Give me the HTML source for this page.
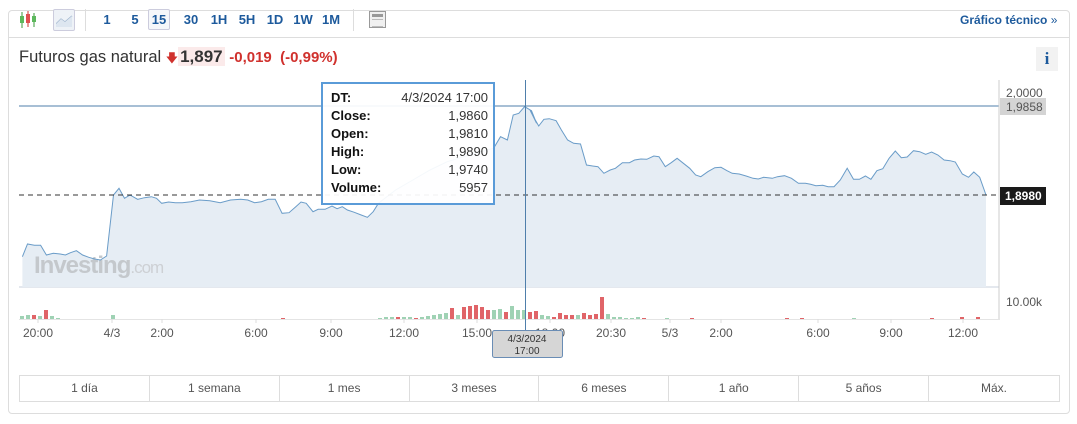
<!DOCTYPE html>
<html><head><meta charset="utf-8">
<style>
*{box-sizing:border-box;margin:0;padding:0}
body{width:1077px;height:424px;background:#fff;font-family:"Liberation Sans",Arial,sans-serif;position:relative;overflow:hidden}
.card{position:absolute;left:8px;top:10px;width:1062px;height:404px;border:1px solid #ddd;border-radius:4px}
.tb{position:absolute;top:12px;font-size:13px;font-weight:bold;color:#1d5a9c}
.tf{position:absolute;top:8px;height:23px;line-height:23px;text-align:center}
</style></head><body>
<div class="card"></div>
<div style="position:absolute;left:9px;top:37px;width:1060px;height:1px;background:#ddd"></div>
<svg style="position:absolute;left:18px;top:10px" width="20" height="20"><g stroke-width="1">
<line x1="4" y1="2" x2="4" y2="18" stroke="#3a9a3a"/><rect x="2" y="6" width="4" height="7" fill="#5cb85c"/>
<line x1="10" y1="1" x2="10" y2="17" stroke="#c33"/><rect x="8" y="4" width="4" height="9" fill="#e05050"/>
<line x1="16" y1="3" x2="16" y2="17" stroke="#3a9a3a"/><rect x="14" y="6" width="4" height="6" fill="#5cb85c"/></g></svg>
<div style="position:absolute;left:53px;top:9px;width:22px;height:22px;border:1px solid #ccd;background:#eef2f7;border-radius:2px"></div>
<svg style="position:absolute;left:56px;top:13px" width="17" height="14"><polyline points="0,11 5,6 9,9 16,3" fill="none" stroke="#9db3cc" stroke-width="1.2"/><polygon points="0,11 5,6 9,9 16,3 16,14 0,14" fill="#dde6f0"/></svg>
<div style="position:absolute;left:85px;top:9px;width:1px;height:22px;background:#ddd"></div>
<div class="tf tb" style="left:100px;top:8px;line-height:23px;width:14px">1</div>
<div class="tf tb" style="left:128px;top:8px;width:14px">5</div>
<div class="tf tb" style="left:148px;top:9px;width:22px;height:21px;border:1px solid #ccd;border-radius:2px;background:#f5f7fa;line-height:19px">15</div>
<div class="tf tb" style="left:180px;width:22px">30</div>
<div class="tf tb" style="left:208px;width:22px">1H</div>
<div class="tf tb" style="left:236px;width:22px">5H</div>
<div class="tf tb" style="left:264px;width:22px">1D</div>
<div class="tf tb" style="left:291px;width:24px">1W</div>
<div class="tf tb" style="left:319px;width:24px">1M</div>
<div style="position:absolute;left:353px;top:9px;width:1px;height:22px;background:#ddd"></div>
<div style="position:absolute;left:369px;top:11px;width:17px;height:17px;border:1px solid #999;background:#f0f0f0"><div style="margin:2px;height:3px;background:#999"></div><div style="margin:1px 2px;height:8px;border-top:1px solid #bbb;border-bottom:1px solid #bbb"></div></div>
<div class="tb" style="left:960px;top:13px;font-size:12px">Gráfico técnico <span style="font-weight:normal">»</span></div>
<div style="position:absolute;left:19px;top:47px;font-size:16.5px;color:#333;white-space:nowrap">Futuros gas natural <span style="color:#d0312d;font-size:12px">&#129095;</span><span style="background:#fbeaea;font-weight:bold;color:#333;padding:0 2px;font-size:17px">1,897</span> <span style="color:#d0312d;font-weight:bold;font-size:15px">-0,019&nbsp; (-0,99%)</span></div>
<div style="position:absolute;left:1036px;top:47px;width:22px;height:24px;background:#f2f2f2;color:#1d5a9c;font:bold 17px 'Liberation Serif',serif;text-align:center;line-height:24px">i</div>
<svg id="ch" style="position:absolute;left:0;top:0" width="1077" height="424"></svg>
<div style="position:absolute;left:19px;top:375px;width:1041px;height:27px;border:1px solid #ddd;display:flex;font-size:12px;color:#555">
<div style="flex:1;text-align:center;line-height:25px;border-right:1px solid #ddd">1 día</div>
<div style="flex:1;text-align:center;line-height:25px;border-right:1px solid #ddd">1 semana</div>
<div style="flex:1;text-align:center;line-height:25px;border-right:1px solid #ddd">1 mes</div>
<div style="flex:1;text-align:center;line-height:25px;border-right:1px solid #ddd">3 meses</div>
<div style="flex:1;text-align:center;line-height:25px;border-right:1px solid #ddd">6 meses</div>
<div style="flex:1;text-align:center;line-height:25px;border-right:1px solid #ddd">1 año</div>
<div style="flex:1;text-align:center;line-height:25px;border-right:1px solid #ddd">5 años</div>
<div style="width:130px;text-align:center;line-height:25px">Máx.</div>
</div>
<script>
var L=[[65,530],[80,492],[100,496],[118,496],[135,525],[155,520],[175,522],[190,525],[205,518],[222,512],[240,525],[258,532],[275,537],[292,540],[310,528],[330,345],[346,325],[362,355],[378,345],[400,358],[420,353],[440,350],[455,355],[470,370],[490,366],[510,368],[530,368],[555,365],[580,360],[610,362],[640,368],[670,360],[700,358],[720,360],[740,368],[760,365],[780,358],[800,358],[820,400],[840,398],[860,380],[875,366],[890,370],[910,395],[925,388],[945,388],[965,378],[980,386],[995,380],[1010,390],[1030,397],[1050,405],[1068,412],[1085,395],[1100,370],[1150,330],[1200,300],[1250,270],[1300,245],[1380,220],[1435,205],[1455,170],[1475,180],[1492,105],[1508,100],[1525,80],[1545,92],[1560,130]];
var R=[[0,90],[10,110],[25,138],[40,118],[55,116],[75,122],[90,150],[108,180],[125,190],[145,192],[162,255],[180,258],[195,260],[212,280],[230,270],[245,265],[265,248],[285,248],[300,240],[318,237],[335,238],[355,228],[370,230],[388,260],[405,248],[422,235],[440,250],[458,265],[475,285],[490,290],[510,275],[530,263],[548,262],[565,272],[580,280],[600,282],[620,288],[640,295],[655,297],[670,292],[695,295],[710,290],[730,287],[750,295],[770,310],[790,310],[805,313],[820,317],[840,316],[855,320],[872,320],[890,300],[910,265],[928,298],[945,298],[962,288],[978,298],[995,272],[1012,266],[1030,235],[1048,213],[1065,233],[1082,231],[1100,212],[1118,215],[1135,223],[1152,216],[1170,225],[1188,240],[1205,242],[1220,246],[1240,282],[1258,292],[1273,276],[1290,292],[1308,345]];
var P=L.map(function(p){return [p[0]*0.344,80+p[1]/3]}).concat(R.map(function(p){return [530+p[0]*0.3486,80+p[1]/3]}));
var pts=P.map(function(p){return p[0].toFixed(1)+","+p[1].toFixed(1)}).join(" ");
var s='';
s+='<line x1="19" y1="287" x2="999" y2="287" stroke="#c8d0dc"/>';
s+='<polygon points="'+pts+' '+P[P.length-1][0].toFixed(1)+',287 '+P[0][0].toFixed(1)+',287" fill="#e6edf4"/>';
s+='<text x="34" y="273" font-family="Liberation Sans" font-size="24" font-weight="bold" fill="#c4c8cc" letter-spacing="-1">Investing<tspan font-weight="normal" font-size="17" fill="#cdd0d4">.com</tspan></text>';
s+='<polyline points="'+pts+'" fill="none" stroke="#6a9cc8" stroke-width="1"/>';
s+='<line x1="19" y1="106" x2="999" y2="106" stroke="#4f7fab" stroke-width="1"/>';
s+='<line x1="19" y1="195" x2="999" y2="195" stroke="#333" stroke-dasharray="5,4"/>';
s+='<line x1="999" y1="80" x2="999" y2="320" stroke="#ccc"/>';
s+='<line x1="19" y1="319.5" x2="999" y2="319.5" stroke="#e4e4e4"/>';
var vols=[[20,3,'g'],[26,4,'g'],[32,4,'r'],[38,3,'g'],[44,9,'r'],[50,3,'g'],[56,1,'g'],[111,4,'g'],[281,1,'r'],[378,1,'g'],[384,2,'g'],[390,2,'g'],[396,2,'r'],[402,2,'g'],[408,2,'g'],[414,1,'r'],[420,2,'g'],[426,3,'g'],[432,4,'g'],[438,5,'g'],[444,6,'g'],[450,11,'r'],[456,4,'g'],[462,12,'r'],[468,13,'r'],[474,14,'r'],[480,12,'r'],[486,9,'r'],[492,9,'g'],[498,10,'g'],[504,7,'r'],[510,13,'g'],[516,9,'g'],[522,9,'g'],[528,7,'r'],[534,8,'r'],[540,4,'g'],[546,3,'g'],[552,2,'r'],[558,6,'r'],[564,4,'r'],[570,4,'r'],[576,4,'g'],[582,6,'r'],[588,4,'r'],[594,5,'r'],[600,22,'r'],[606,5,'g'],[612,2,'g'],[618,2,'g'],[624,1,'g'],[630,1,'g'],[636,2,'g'],[642,1,'r'],[665,1,'g'],[690,1,'r'],[785,1,'r'],[800,1,'r'],[852,1,'g'],[930,1,'r'],[960,2,'r'],[976,2,'r']];
vols.forEach(function(v){s+='<rect x="'+v[0]+'" y="'+(319-v[1])+'" width="4" height="'+v[1]+'" fill="'+(v[2]=='r'?'#e06468':'#9fd2b4')+'"/>';});
s+='<text x="1006" y="97" font-size="12" fill="#555" font-family="Liberation Sans">2,0000</text>';
s+='<rect x="1000" y="98" width="46" height="17" fill="#d4d4d4"/><text x="1006" y="111" font-size="12" fill="#555" font-family="Liberation Sans">1,9858</text>';
s+='<rect x="1000" y="187" width="46" height="18" fill="#1a1a1a"/><text x="1005" y="200" font-size="12" font-weight="bold" fill="#fff" font-family="Liberation Sans">1,8980</text>';
s+='<text x="1006" y="306" font-size="12" fill="#555" font-family="Liberation Sans">10.00k</text>';
[[38,'20:00'],[112,'4/3'],[162,'2:00'],[256,'6:00'],[331,'9:00'],[404,'12:00'],[477,'15:00'],[550,'18:00'],[611,'20:30'],[670,'5/3'],[721,'2:00'],[818,'6:00'],[891,'9:00'],[963,'12:00']].forEach(function(t){
s+='<line x1="'+t[0]+'" y1="319" x2="'+t[0]+'" y2="323" stroke="#ddd"/><text x="'+t[0]+'" y="337" text-anchor="middle" font-size="12" fill="#555" font-family="Liberation Sans">'+t[1]+'</text>';});
s+='<line x1="525.5" y1="80" x2="525.5" y2="331" stroke="#4f7fab"/>';
s+='<rect x="492.5" y="330.5" width="70" height="27" rx="2" fill="#d6d6d6" stroke="#6a8db5"/><text x="527" y="342" text-anchor="middle" font-size="10" fill="#333" font-family="Liberation Sans">4/3/2024</text><text x="527" y="354" text-anchor="middle" font-size="10" fill="#333" font-family="Liberation Sans">17:00</text>';
s+='<rect x="322" y="83" width="172" height="121" fill="#fff" fill-opacity="0.93" stroke="#5a9bd8" stroke-width="2"/>';
var tt=[['DT:','4/3/2024 17:00'],['Close:','1,9860'],['Open:','1,9810'],['High:','1,9890'],['Low:','1,9740'],['Volume:','5957']];
tt.forEach(function(r,i){var y=102+i*18;s+='<text x="331" y="'+y+'" font-size="13" font-weight="bold" fill="#111" font-family="Liberation Sans">'+r[0]+'</text><text x="488" y="'+y+'" text-anchor="end" font-size="13" fill="#333" font-family="Liberation Sans">'+r[1]+'</text>';});
document.getElementById('ch').innerHTML=s;
</script>
</body></html>
